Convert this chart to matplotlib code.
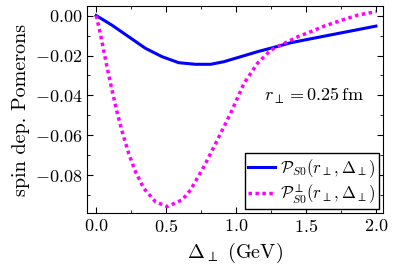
import numpy as np
import matplotlib
matplotlib.use("Agg")
import matplotlib.pyplot as plt
from matplotlib.ticker import MultipleLocator

plt.rcParams['font.family'] = 'serif'
plt.rcParams['font.serif'] = ['cmr10']
plt.rcParams['mathtext.fontset'] = 'cm'
plt.rcParams['axes.formatter.use_mathtext'] = True

# values
delta_a = [0.0, 0.112, 0.232, 0.352, 0.471, 0.59, 0.71, 0.818, 0.913, 1.033,
           1.153, 1.272, 1.392, 1.5, 1.75, 2.0]
p_s0 = [0.0, -0.0048, -0.0106, -0.0164, -0.0206, -0.0236, -0.0244, -0.0244, -0.0231,
        -0.0206, -0.0181, -0.0159, -0.0136, -0.0121, -0.0087, -0.0053]

delta_b = [0.0, 0.029, 0.053, 0.077, 0.112, 0.148, 0.189, 0.232, 0.28, 0.34, 0.423,
           0.507, 0.615, 0.674, 0.77, 0.866, 0.961, 1.057, 1.153, 1.248, 1.368,
           1.451, 1.506, 1.63, 1.757, 1.87, 2.0]
p_s0_perp = [0.0, -0.0089, -0.0173, -0.0256, -0.037, -0.048, -0.0589, -0.0689, -0.078,
             -0.0864, -0.0931, -0.0956, -0.0922, -0.0873, -0.0756, -0.0623, -0.0489,
             -0.0339, -0.0239, -0.0173, -0.0131, -0.0103, -0.0089, -0.0053, -0.0023,
             0.0002, 0.0019]

fig, ax = plt.subplots(figsize=(3.96, 2.69), dpi=100)
fig.subplots_adjust(left=0.22, right=0.967, top=0.978, bottom=0.208)

ax.plot(delta_a, p_s0, color='#0000ff', lw=2.2, label=r'$\mathcal{P}_{S0}(r_\perp,\Delta_\perp)$')
ax.plot(delta_b, p_s0_perp, color='#ff00ff', lw=2.5, ls=(0, (1, 1)),
        label=r'$\mathcal{P}^{\perp}_{S0}(r_\perp,\Delta_\perp)$')

ax.set_xlim(-0.065, 2.05)
ax.set_ylim(-0.0988, 0.0048)
ax.xaxis.set_major_locator(MultipleLocator(0.5))
ax.xaxis.set_minor_locator(MultipleLocator(0.25))
ax.yaxis.set_major_locator(MultipleLocator(0.02))
ax.yaxis.set_minor_locator(MultipleLocator(0.01))
ax.tick_params(which='both', direction='in', top=True, right=True, labelsize=13)
ax.tick_params(which='major', length=4)
ax.tick_params(which='minor', length=2)
ax.yaxis.set_major_formatter(plt.FuncFormatter(lambda v, p: f'${v:.2f}$'))
ax.xaxis.set_major_formatter(plt.FuncFormatter(lambda v, p: f'${v:.1f}$'))

ax.text(1.2, -0.04, r'$r_\perp = 0.25\,\mathrm{fm}$', fontsize=13, va='center')
ax.set_xlabel(r'$\Delta_\perp$ (GeV)', fontsize=14.5)
ax.set_ylabel('spin dep. Pomerons', fontsize=14.5, labelpad=3)

leg = ax.legend(loc='lower right', fontsize=12, fancybox=False, framealpha=1,
                edgecolor='black', borderpad=0.2, handlelength=1.6, handletextpad=0.3,
                labelspacing=0.15, borderaxespad=0.25)
leg.get_frame().set_linewidth(1.0)

fig.savefig('out.png', dpi=100)
